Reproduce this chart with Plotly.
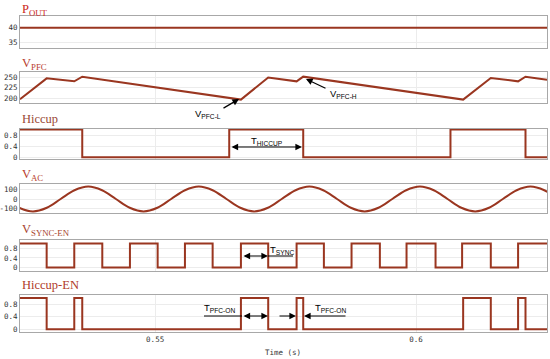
import plotly.graph_objs as go

# time window shown (s)
t_range = [0.5241, 0.6251]

pout_t = [0.52, 0.63]
pout_v = [40, 40]

vpfc_t = [0.5241, 0.52921, 0.53450, 0.53603, 0.56644, 0.57167, 0.57711,
          0.57838, 0.60903, 0.61433, 0.61956, 0.62098, 0.6251]
vpfc_v = [198, 247, 240, 251, 197, 249, 240, 251, 197, 248, 240, 251, 244]

hiccup_t = [0.52, 0.53603, 0.5642, 0.57838, 0.6066, 0.62098, 0.63]
hiccup_v = [1, 0, 1, 0, 1, 0, 0]

vac_t = [0.52129, 0.52394, 0.52659, 0.52924, 0.53189, 0.53454, 0.53718,
         0.53983, 0.54248, 0.54513, 0.54778, 0.55043, 0.55307, 0.55572,
         0.55837, 0.56102, 0.56367, 0.56632, 0.56897, 0.57162, 0.57426,
         0.57691, 0.57956, 0.58221, 0.58486, 0.58751, 0.59015, 0.59280,
         0.59545, 0.59810, 0.60075, 0.60340, 0.60604, 0.60869, 0.61134,
         0.61399, 0.61664, 0.61929, 0.62193, 0.62458, 0.62723]
vac_v = [0, -95, -135, -95, 0, 95, 135, 95, 0, -95, -135, -95, 0, 95,
         135, 95, 0, -95, -135, -95, 0, 95, 135, 95, 0, -95, -135, -95,
         0, 95, 135, 95, 0, -95, -135, -95, 0, 95, 135, 95, 0]

sync_t = [0.52, 0.52921, 0.53450, 0.53987, 0.54517, 0.55048, 0.55571,
          0.56102, 0.56644, 0.57167, 0.57711, 0.58234, 0.58764, 0.59307,
          0.59818, 0.60374, 0.60883, 0.61433, 0.61956, 0.63]
sync_v = [1, 0, 1, 0, 1, 0, 1, 0, 1, 0, 1, 0, 1, 0, 1, 0, 1, 0, 1, 1]

hen_t = [0.52, 0.52921, 0.53450, 0.53603, 0.56644, 0.57167, 0.57711,
         0.57838, 0.60903, 0.61433, 0.61956, 0.62098, 0.63]
hen_v = [1, 0, 1, 0, 1, 0, 1, 0, 1, 0, 1, 0, 0]

titles = ['P<sub>OUT</sub>', 'V<sub>PFC</sub>', 'Hiccup', 'V<sub>AC</sub>',
          'V<sub>SYNC-EN</sub>', 'Hiccup-EN']
title_colors = ['#cc2620', '#b8402e', '#9a4a36', '#b8402e', '#a8442e', '#b03a2a']
y_ticks = [[35, 40], [200, 225, 250], [0, 0.4, 0.8], [-100, 0, 100],
           [0, 0.4, 0.8], [0, 0.4, 0.8]]
y_ticktext = [['35', '40'], ['200', '225', '250'], ['0', '0.4', '0.8'],
              ['-100', '0', '100'], ['0', '0.4', '0.8'], ['0', '0.4', '0.8']]
y_ranges = [[33, 44], [189, 262], [-0.06, 1.02], [-152, 163],
            [-0.14, 1.14], [-0.09, 1.1]]

W, H = 550, 359
L, R = 20, 3
# panel boxes in pixels (top, bottom)
boxes = [(16, 48), (72, 103), (129, 159), (184, 213), (240, 271), (295, 332)]
title_y = [10, 64, 119, 175, 230, 285]

line_col = '#9a3620'
series = [(pout_t, pout_v, 'linear'), (vpfc_t, vpfc_v, 'linear'),
          (hiccup_t, hiccup_v, 'hv'), (vac_t, vac_v, 'spline'),
          (sync_t, sync_v, 'hv'), (hen_t, hen_v, 'hv')]

def px(x):
    return (x - L) / (W - L - R)

def py(y):
    return 1 - y / H

data = []
layout = dict(width=W, height=H, showlegend=False,
              margin=dict(l=L, r=R, t=0, b=0, autoexpand=False),
              plot_bgcolor='white', paper_bgcolor='white',
              annotations=[], shapes=[])

tick_font = dict(family='DejaVu Sans Mono', size=7.5, color='#333')

for i, (tt, vv, shape) in enumerate(series):
    n = '' if i == 0 else str(i + 1)
    data.append(go.Scatter(x=tt, y=vv, mode='lines', xaxis='x' + n, yaxis='y' + n,
                           line=dict(color=line_col, width=2, shape=shape,
                                     smoothing=1.0)))
    top, bot = boxes[i]
    layout['xaxis' + n] = dict(domain=[0, 1], range=t_range, anchor='y' + n,
                               showline=True, mirror=True, linecolor='#a8a8a8',
                               linewidth=1, showgrid=True, gridcolor='#ececec',
                               tickvals=[0.55, 0.6], ticktext=['0.55', '0.6'],
                               showticklabels=(i == 5), tickfont=tick_font,
                               zeroline=False, ticks='', automargin=False)
    if i > 0:
        layout['xaxis' + n]['matches'] = 'x'
    layout['yaxis' + n] = dict(domain=[py(bot), py(top)], range=y_ranges[i],
                               anchor='x' + n, showline=True, mirror=True,
                               linecolor='#a8a8a8', linewidth=1, showgrid=True,
                               gridcolor='#ececec', tickvals=y_ticks[i],
                               ticktext=y_ticktext[i], tickfont=tick_font,
                               zeroline=False, ticks='', automargin=False)
    layout['annotations'].append(dict(
        text=titles[i], xref='paper', yref='paper', x=0, y=py(title_y[i]),
        xanchor='left', yanchor='middle', showarrow=False,
        font=dict(family='Liberation Serif', size=12.5, color=title_colors[i])))

layout['annotations'].append(dict(
    text='Time (s)', xref='paper', yref='paper', x=px(283), y=py(352),
    xanchor='center', yanchor='middle', showarrow=False,
    font=dict(family='DejaVu Sans Mono', size=7.5, color='#333')))

lab_font = dict(family='Liberation Sans', size=9.5, color='black')

def label(text, x, y):
    layout['annotations'].append(dict(
        text=text, xref='paper', yref='paper', x=px(x), y=py(y),
        xanchor='center', yanchor='middle', showarrow=False, font=lab_font))

def arrow(x0, y0, x1, y1, both=False):
    a = dict(text='', xref='paper', yref='paper', x=px(x1), y=py(y1),
             ax=x0 - x1, ay=y0 - y1, axref='pixel', ayref='pixel',
             showarrow=True, arrowhead=2, arrowsize=1.1, arrowwidth=1.2,
             arrowcolor='black', standoff=0, startstandoff=0)
    if both:
        a['arrowside'] = 'end+start'
        a['startarrowhead'] = 2
        a['startarrowsize'] = 1.1
    layout['annotations'].append(a)

def hline(x0, x1, y):
    layout['shapes'].append(dict(type='line', xref='paper', yref='paper',
                                 x0=px(x0), x1=px(x1), y0=py(y), y1=py(y),
                                 line=dict(color='black', width=1)))

label('V<sub>PFC-L</sub>', 208, 114)
arrow(222, 109, 239, 99)
label('V<sub>PFC-H</sub>', 343, 94)
arrow(327, 89, 306, 79)
label('T<sub>HICCUP</sub>', 267, 141)
arrow(230, 147, 302, 147, both=True)
label('T<sub>SYNC</sub>', 282, 250)
arrow(242, 256, 268, 256, both=True)
hline(268, 293, 256)
label('T<sub>PFC-ON</sub>', 219, 308)
hline(204, 242, 316)
arrow(242, 316, 268, 316, both=True)
arrow(278, 316, 296, 316)
arrow(347, 316, 304, 316)
label('T<sub>PFC-ON</sub>', 330, 308)

fig = go.Figure(data=data, layout=go.Layout(**layout))
# drop the page's default body margin so the figure sits at the window corner
fig.write_html("out.html", config={'displayModeBar': False},
               post_script="document.body.style.margin='0px';"
                           "document.body.style.overflow='hidden';")
